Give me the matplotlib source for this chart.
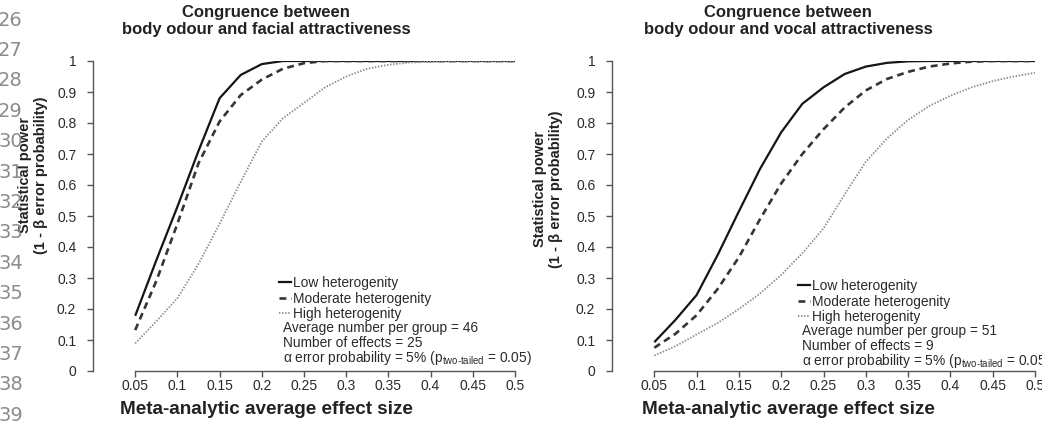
import numpy as np
from matplotlib import pyplot as plt
from matplotlib.ticker import FuncFormatter
from matplotlib.lines import Line2D

plt.rcParams['font.family'] = ['Liberation Sans', 'DejaVu Sans']
plt.rcParams['mathtext.fontset'] = 'custom'
plt.rcParams['mathtext.rm'] = 'Liberation Sans'
plt.rcParams['mathtext.it'] = 'Liberation Sans:italic'
plt.rcParams['mathtext.bf'] = 'Liberation Sans:bold'

# effect sizes 0.05 .. 0.5 in steps of 0.025
effect = np.round(np.arange(0.05, 0.5001, 0.025), 3)

face_low = [0.178, 0.357, 0.53, 0.71, 0.88, 0.955, 0.99, 1.0,
            1.0, 1.0, 1.0, 1.0, 1.0, 1.0, 1.0, 1.0, 1.0, 1.0, 1.0]
face_mod = [0.132, 0.29, 0.475, 0.67, 0.805, 0.89, 0.94, 0.975, 0.993,
            1.0, 1.0, 1.0, 1.0, 1.0, 1.0, 1.0, 1.0, 1.0, 1.0]
face_high = [0.089, 0.16, 0.235, 0.345, 0.475, 0.61, 0.74, 0.815, 0.865, 0.915,
             0.95, 0.975, 0.988, 0.995, 0.998, 1.0, 1.0, 1.0, 1.0]

voice_low = [0.093, 0.165, 0.245, 0.375, 0.515, 0.652, 0.77, 0.862, 0.915, 0.958,
             0.982, 0.994, 0.999, 1.0, 1.0, 1.0, 1.0, 1.0, 1.0]
voice_mod = [0.075, 0.12, 0.18, 0.265, 0.367, 0.49, 0.605, 0.70, 0.78, 0.85,
             0.905, 0.942, 0.965, 0.982, 0.992, 0.998, 1.0, 1.0, 1.0]
voice_high = [0.05, 0.08, 0.118, 0.155, 0.2, 0.25, 0.31, 0.38, 0.46, 0.57,
              0.675, 0.75, 0.81, 0.855, 0.888, 0.915, 0.935, 0.95, 0.962]

titles = ['Congruence between\nbody odour and facial attractiveness',
          'Congruence between\nbody odour and vocal attractiveness']
n_group = [46, 51]
n_effects = [25, 9]
line_numbers = list(range(26, 40))

series_names = ['Low heterogenity', 'Moderate heterogenity', 'High heterogenity']
styles = [dict(color='#151515', lw=1.6, ls='-'),
          dict(color='#353535', lw=1.9, ls=(0, (2.6, 1.8))),
          dict(color='#8a8a8a', lw=1.3, ls=(0, (0.8, 0.9)))]

W, H = 1042, 424
fig = plt.figure(figsize=(W / 100, H / 100), dpi=100)

ax1 = fig.add_axes([93 / W, 1 - 371 / H, 422 / W, 310 / H])
ax2 = fig.add_axes([612 / W, 1 - 371 / H, 423 / W, 310 / H])

fmt = FuncFormatter(lambda v, p: '%g' % round(v, 3))

panels = [(ax1, [face_low, face_mod, face_high]),
          (ax2, [voice_low, voice_mod, voice_high])]

for ax, curves in panels:
    for vals, st in zip(curves, styles):
        ax.plot(effect, vals, **st, solid_capstyle='butt', dash_capstyle='butt',
                solid_joinstyle='round')
    ax.set_xlim(0, 0.5)
    ax.set_ylim(0, 1)
    ax.spines['top'].set_visible(False)
    ax.spines['right'].set_visible(False)
    for s in ['left', 'bottom']:
        ax.spines[s].set_color('#555555')
        ax.spines[s].set_linewidth(1.0)
    ax.spines['left'].set_bounds(0, 1)
    ax.spines['bottom'].set_bounds(0.05, 0.5)
    ax.set_xticks(np.round(np.arange(0.05, 0.5001, 0.05), 2))
    ax.set_yticks(np.round(np.arange(0, 1.001, 0.1), 1))
    ax.xaxis.set_major_formatter(fmt)
    ax.yaxis.set_major_formatter(fmt)
    ax.tick_params(direction='out', length=4, width=1, color='#555555',
                   labelsize=10, labelcolor='#2a2a2a')
    ax.tick_params(axis='y', pad=8)
    ax.tick_params(axis='x', pad=2)
    ax.patch.set_visible(False)

# titles, axis labels and notes
title_x = [266, 788]
ylab_x = [33, 548]
ylab_y = [175, 189]
note_x = [283, 802]
note_y = [284, 287]
for i, ax in enumerate([ax1, ax2]):
    fig.text(title_x[i] / W, 1 - 21 / H, titles[i], ha='center', va='center',
             fontsize=12, fontweight='bold', color='#222222', linespacing=1.2)
    fig.text(title_x[i] / W, 1 - 409 / H, 'Meta-analytic average effect size',
             ha='center', va='center', fontsize=13.6, fontweight='bold', color='#222222')
    fig.text(ylab_x[i] / W, 1 - ylab_y[i] / H,
             'Statistical power\n(1 - \u03b2 error probability)',
             ha='center', va='center', rotation=90, fontsize=10.5,
             fontweight='bold', color='#222222', linespacing=1.15)

    handles = [Line2D([], [], **st) for st in styles]
    leg = fig.legend(handles, series_names, loc='upper left',
                     bbox_to_anchor=(note_x[i] / W - 0.004, 1 - (note_y[i] - 8) / H),
                     frameon=False, fontsize=9.9, handlelength=0.9,
                     handletextpad=0.15, labelspacing=0.12, borderpad=0,
                     borderaxespad=0)
    for t in leg.get_texts():
        t.set_color('#2a2a2a')

    notes = ['Average number per group = %d' % n_group[i],
             'Number of effects = %d' % n_effects[i],
             '\u03b1 error probability = 5% (p$_{\\text{two-tailed}}$ = 0.05)']
    for k, line in enumerate(notes):
        fig.text(note_x[i] / W, 1 - (note_y[i] + 44 + 15 * k) / H, line,
                 ha='left', va='center', fontsize=9.9, color='#2a2a2a')

# manuscript line numbers down the left margin
for k, num in enumerate(line_numbers):
    fig.text(-2 / W, 1 - (20 + 30.4 * k) / H, str(num), ha='left', va='center',
             fontsize=14, color='#8c8c8c', family='DejaVu Sans')

fig.savefig('out.png', dpi=100)
